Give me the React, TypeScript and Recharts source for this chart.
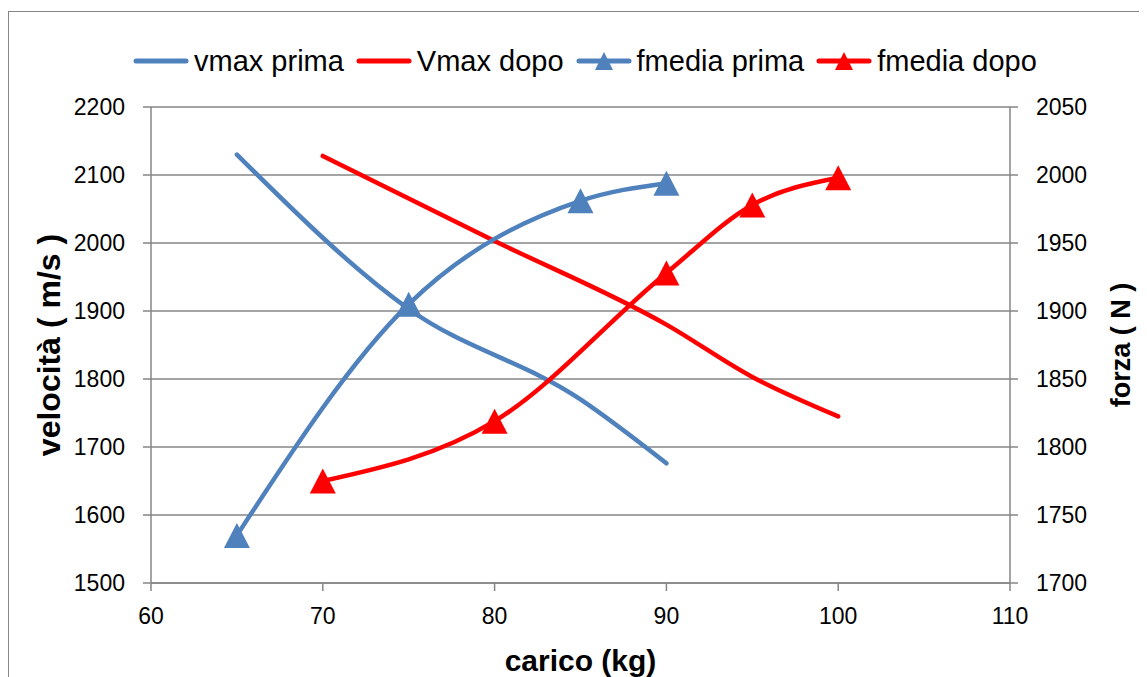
import { LineChart, Line, XAxis, YAxis, CartesianGrid, Label } from "recharts";

// carico (kg) per le due serie di prove
const caricoPrima = [65, 75, 85, 90];
const caricoDopo = [70, 80, 90, 95, 100];

// velocità massima (m/s), asse sinistro
const vmaxPrima = [2130, 1903, 1770, 1676];
const vmaxDopo = [2128, 2003, 1880, 1803, 1745];

// forza media (N), asse destro
const fmediaPrima = [1735, 1905, 1981, 1994];
const fmediaDopo = [1775, 1819, 1928, 1978, 1998];

const tickCarico = [60, 70, 80, 90, 100, 110];
const tickVelocita = [1500, 1600, 1700, 1800, 1900, 2000, 2100, 2200];
const tickForza = [1700, 1750, 1800, 1850, 1900, 1950, 2000, 2050];

const BLU = "#4F81BD";
const ROSSO = "#FF0000";
const GRIGIO = "#868686";
const FONT = "'Liberation Sans', Arial, sans-serif";

const punti = (xs: number[], ys: number[]) =>
  xs.map((x, i) => ({ carico: x, valore: ys[i] }));

const serie = [
  { nome: "vmax prima", colore: BLU, asse: "vel", marker: false, dati: punti(caricoPrima, vmaxPrima) },
  { nome: "Vmax dopo", colore: ROSSO, asse: "vel", marker: false, dati: punti(caricoDopo, vmaxDopo) },
  { nome: "fmedia prima", colore: BLU, asse: "forza", marker: true, dati: punti(caricoPrima, fmediaPrima) },
  { nome: "fmedia dopo", colore: ROSSO, asse: "forza", marker: true, dati: punti(caricoDopo, fmediaDopo) },
];

const triangolo = (cx: number, cy: number, w: number, h: number) =>
  `${cx},${cy - h / 2} ${cx - w / 2},${cy + h / 2} ${cx + w / 2},${cy + h / 2}`;

const tickStyle = { fill: "#000", fontSize: 23, fontFamily: FONT };

function TitoloVerticale({ viewBox, x, testo, size }: any) {
  const cy = viewBox.y + viewBox.height / 2;
  return (
    <text
      x={x}
      y={cy}
      transform={`rotate(-90 ${x} ${cy})`}
      textAnchor="middle"
      fontFamily={FONT}
      fontWeight="bold"
      fontSize={size}
      fill="#000"
    >
      {testo}
    </text>
  );
}

function Legenda() {
  return (
    <div
      style={{
        position: "absolute",
        left: 125,
        top: 37,
        display: "flex",
        alignItems: "center",
        gap: 12,
        fontFamily: FONT,
        fontSize: 29,
        lineHeight: "32px",
        color: "#000",
        whiteSpace: "nowrap",
      }}
    >
      {serie.map((s) => (
        <div key={s.nome} style={{ display: "flex", alignItems: "center", gap: 5 }}>
          <svg width={56} height={22}>
            <line x1={3} y1={11} x2={53} y2={11} stroke={s.colore} strokeWidth={5} strokeLinecap="round" />
            {s.marker && <polygon points={triangolo(28, 11, 18, 18)} fill={s.colore} />}
          </svg>
          <span>{s.nome}</span>
        </div>
      ))}
    </div>
  );
}

export default function App() {
  return (
    <div style={{ position: "relative", width: 1139, height: 669, background: "#fff" }}>
      <div
        style={{
          position: "absolute",
          left: 0,
          top: 3,
          width: 1139,
          height: 666,
          borderLeft: `1.5px solid ${GRIGIO}`,
          borderTop: `1.5px solid ${GRIGIO}`,
          boxSizing: "border-box",
        }}
      />
      <LineChart width={1139} height={669} margin={{ top: 99, right: 0, bottom: 0, left: 0 }}>
        <CartesianGrid yAxisId="vel" vertical={false} stroke={GRIGIO} strokeWidth={1.5} />
        <XAxis
          dataKey="carico"
          type="number"
          domain={[60, 110]}
          ticks={tickCarico}
          height={94}
          stroke={GRIGIO}
          strokeWidth={1.5}
          tickSize={8}
          tickMargin={17}
          tick={tickStyle}
          allowDuplicatedCategory={false}
        >
          <Label
            value="carico (kg)"
            position="insideBottom"
            offset={6}
            style={{ fontFamily: FONT, fontWeight: "bold", fontSize: 30, fill: "#000" }}
          />
        </XAxis>
        <YAxis
          yAxisId="vel"
          orientation="left"
          width={143}
          domain={[1500, 2200]}
          ticks={tickVelocita}
          stroke={GRIGIO}
          strokeWidth={1.5}
          tickSize={8}
          tickMargin={18}
          tick={tickStyle}
        >
          <Label content={(p: any) => <TitoloVerticale {...p} x={52} testo="velocità ( m/s )" size={32} />} />
        </YAxis>
        <YAxis
          yAxisId="forza"
          orientation="right"
          width={137}
          domain={[1700, 2050]}
          ticks={tickForza}
          stroke={GRIGIO}
          strokeWidth={1.5}
          tickSize={8}
          tickMargin={18}
          tick={{ ...tickStyle, textAnchor: "start" }}
        >
          <Label content={(p: any) => <TitoloVerticale {...p} x={1122} testo="forza ( N )" size={27} />} />
        </YAxis>
        {serie.map((s) => (
          <Line
            key={s.nome}
            name={s.nome}
            data={s.dati}
            dataKey="valore"
            yAxisId={s.asse}
            type="monotone"
            stroke={s.colore}
            strokeWidth={4.5}
            strokeLinecap="round"
            strokeLinejoin="round"
            activeDot={false}
            legendType="none"
            isAnimationActive={false}
            dot={
              s.marker
                ? (p: any) => (
                    <polygon
                      key={`${s.nome}-${p.index}`}
                      points={triangolo(p.cx, p.cy, 26, 25)}
                      fill={s.colore}
                    />
                  )
                : false
            }
          />
        ))}
      </LineChart>
      <Legenda />
    </div>
  );
}
